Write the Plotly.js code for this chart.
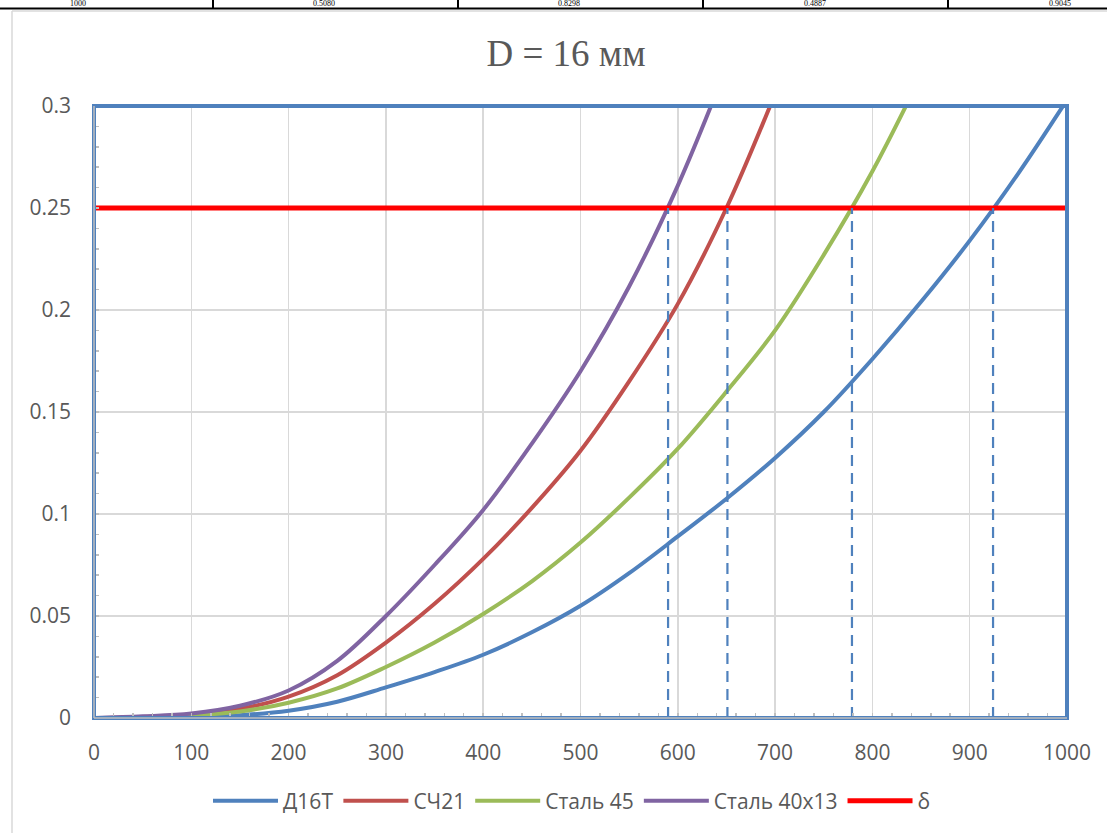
<!DOCTYPE html>
<html><head><meta charset="utf-8">
<script src="https://cdn.plot.ly/plotly-3.0.1.min.js"></script>
<style>html,body{margin:0;padding:0;background:#fff;overflow:hidden}#chart{width:1107px;height:833px}</style>
</head><body><div id="chart"></div>
<script>
// ---- data ----
const xValues = [0,50,100,150,200,250,300,350,400,450,500,550,600,650,700,750,800,850,900,950,1000];
const d16t      = [0,0.0001,0.0005,0.0014,0.0036,0.0080,0.0150,0.0225,0.031,0.042,0.055,0.071,0.089,0.1075,0.1275,0.150,0.176,0.204,0.234,0.267,0.303];
const sch21     = [0,0.0005,0.0017,0.0045,0.0105,0.021,0.037,0.056,0.078,0.103,0.131,0.165,0.203,0.250,0.306,null,null,null,null,null,null];
const steel45   = [0,0.0003,0.0012,0.0032,0.0075,0.0145,0.025,0.037,0.051,0.067,0.086,0.108,0.132,0.160,0.190,0.227,0.268,0.315,null,null,null];
const steel4013 = [0,0.0008,0.0022,0.0060,0.0135,0.028,0.050,0.075,0.102,0.1345,0.170,0.2115,0.261,0.319,null,null,null,null,null,null,null];
const seriesNames = ['Д16Т','СЧ21','Сталь 45','Сталь 40х13','δ'];
const deltaValue = 0.25;
const deltaX = [0, 1000];
const crossX = [590, 651, 779, 924];
const tableTexts = ['1000','0.5080','0.8298','0.4887','0.9045'];
const titleText = 'D = 16 мм';

// ---- styling ----
const colors = ['#4F81BD','#C0504D','#9BBB59','#8064A2','#FF0000'];
const W = 1107, H = 833;
const M = {l:94, r:40, t:106, b:115};
const PW = W - M.l - M.r, PH = H - M.t - M.b;
const px = v => (v - M.l) / PW;
const py = v => (H - M.b - v) / PH;
const tickFont = {family:'"Open Sans", "Noto Sans", sans-serif', size:21, color:'#595959'};

const traces = [];
[d16t, sch21, steel45, steel4013].forEach((ys, i) => {
  traces.push({x:xValues, y:ys, type:'scatter', mode:'lines', name:seriesNames[i],
    line:{color:colors[i], width:4, shape:'spline', smoothing:1}, hoverinfo:'skip'});
});
traces.push({x:deltaX, y:deltaX.map(()=>deltaValue), type:'scatter', mode:'lines', name:seriesNames[4],
  line:{color:colors[4], width:5}, hoverinfo:'skip'});
// dashed drop lines
const dx = [], dy = [];
crossX.forEach(c => { dx.push(c, c, null); dy.push(0, deltaValue, null); });
traces.push({x:dx, y:dy, type:'scatter', mode:'lines', showlegend:false,
  line:{color:'#4F81BD', width:2.2, dash:'11px,7px'}, hoverinfo:'skip'});

const shapes = [
  {type:'rect', xref:'paper', yref:'paper', x0:0, x1:1, y0:0, y1:1, line:{color:'#4F81BD', width:4}, layer:'above'},
  {type:'line', xref:'paper', yref:'paper', x0:0, x1:0, y0:0, y1:1, line:{color:'#bfbfbf', width:1.5}, layer:'above'},
  {type:'line', xref:'paper', yref:'paper', x0:0, x1:1, y0:0, y1:0, line:{color:'#bfbfbf', width:1.5}, layer:'above'},
  {type:'line', xref:'paper', yref:'paper', x0:px(12), x1:px(12), y0:py(11), y1:py(H+5), line:{color:'#d9d9d9', width:1.5}},
  {type:'line', xref:'paper', yref:'paper', x0:px(12), x1:px(W+5), y0:py(11), y1:py(11), line:{color:'#d9d9d9', width:1.5}},
  {type:'line', xref:'paper', yref:'paper', x0:px(-5), x1:px(W+5), y0:py(8.5), y1:py(8.5), line:{color:'#000', width:2}}
];
[213, 458, 703, 948].forEach(s => shapes.push({type:'line', xref:'paper', yref:'paper', x0:px(s), x1:px(s), y0:py(-5), y1:py(8.5), line:{color:'#000', width:2}}));

const annotations = tableTexts.map((t, i) => ({
  text:t, xref:'paper', yref:'paper', x:px(Math.min(78 + i*245.5, 1075)), y:py(3.6), xanchor:'center', yanchor:'middle',
  showarrow:false, borderpad:0, font:{family:'"Liberation Serif", serif', size:8, color:'#000'}
}));

const layout = {
  width:W, height:H, margin:M, paper_bgcolor:'#fff', plot_bgcolor:'#fff',
  title:{text:titleText, xref:'paper', x:px(566), xanchor:'center', yref:'container', y:1-53/H, yanchor:'middle',
    font:{family:'"Liberation Serif", "Times New Roman", serif', size:37, color:'#595959'}},
  xaxis:{range:[0,1000], dtick:100, tick0:0, showgrid:true, gridcolor:'#d9d9d9', gridwidth:1.5, zeroline:false, showline:false,
    ticks:'inside', ticklen:5, tickcolor:'#bfbfbf', tickwidth:1.5, tickfont:tickFont, ticklabelstandoff:20,
    minor:{dtick:20, ticks:'inside', ticklen:5, tickcolor:'#bfbfbf', tickwidth:1.5, showgrid:false}},
  yaxis:{range:[0,0.3], dtick:0.05, tick0:0, showgrid:true, gridcolor:'#d9d9d9', gridwidth:1.5, zeroline:false, showline:false,
    ticks:'inside', ticklen:5, tickcolor:'#bfbfbf', tickwidth:1.5, tickfont:tickFont, ticklabelstandoff:22,
    minor:{dtick:0.01, ticks:'inside', ticklen:5, tickcolor:'#bfbfbf', tickwidth:1.5, showgrid:false}},
  showlegend:true,
  legend:{orientation:'h', x:px(572), xanchor:'center', y:py(801), yanchor:'middle', font:tickFont,
    itemwidth:65, itemclick:false, tracegroupgap:0, bgcolor:'rgba(0,0,0,0)'},
  shapes:shapes, annotations:annotations
};
Plotly.newPlot('chart', traces, layout, {displayModeBar:false, staticPlot:true});
</script></body></html>
